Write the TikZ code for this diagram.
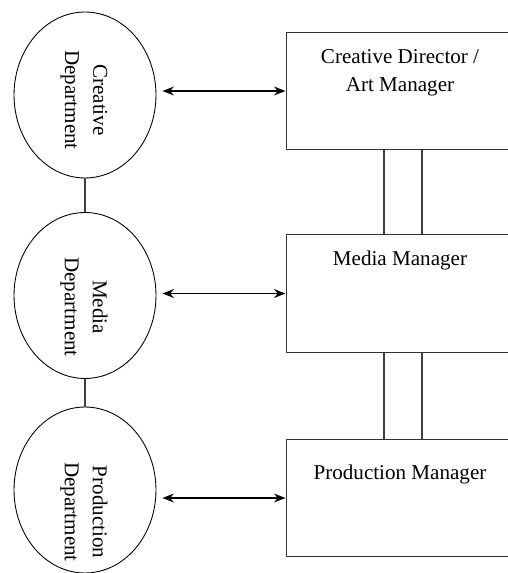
\documentclass[tikz,border=0pt]{standalone}
\usepackage{fontspec}
\setmainfont{Liberation Serif}
\usetikzlibrary{arrows.meta,positioning,calc,shapes.geometric}

\begin{document}
\begin{tikzpicture}[x=0.02cm,y=-0.02cm,
 dept/.style={draw=black,ellipse,line width=0.5pt,inner sep=0pt,
 minimum width=2.84cm,minimum height=3.32cm},
 deptlabel/.style={rotate=-90,align=center,inner sep=0pt,
 font=\fontsize{12}{16}\selectfont},
 mgr/.style={draw=black!80,line width=0.6pt,inner sep=0pt,
 minimum width=4.56cm,minimum height=2.35cm},
 mgrlabel/.style={anchor=north,align=center,inner sep=0pt,
 font=\fontsize{12}{16}\selectfont},
 twoway/.style={{Stealth[length=6.5pt,width=5pt]}-{Stealth[length=6.5pt,width=5pt]},
 line width=1.1pt,draw=black,shorten <=0.12cm},
 tie/.style={draw=black!75,line width=0.6pt}]
\useasboundingbox (0,0) rectangle (507,573);
% departments
\node[dept] (creative) at (85,95) {};
\node[dept] (media) at (85,295.5) {};
\node[dept] (production) at (85,490) {};
\node[deptlabel] at (84,100) {Creative\\Department};
\node[deptlabel] at (84,307) {Media\\Department};
\node[deptlabel] at (84,512) {Production\\Department};
% managers
\node[mgr] (art) at (400,91) {};
\node[mgr] (mediamgr) at (400,293.5) {};
\node[mgr] (prodmgr) at (400,498) {};
\node[mgrlabel] at (400,49) {Creative Director /\\Art Manager};
\node[mgrlabel] at (400,251) {Media Manager};
\node[mgrlabel] at (400,465) {Production Manager};
% links
\draw[tie] (creative.south) -- (media.north);
\draw[tie] (media.south) -- (production.north);
\draw[twoway] (creative.east |- art.west) -- (art.west);
\draw[twoway] (media.east |- mediamgr.west) -- (mediamgr.west);
\draw[twoway] (production.east |- prodmgr.west) -- (prodmgr.west);
\draw[tie] ([xshift=-0.32cm]art.south) -- ([xshift=-0.32cm]mediamgr.north);
\draw[tie] ([xshift=0.44cm]art.south) -- ([xshift=0.44cm]mediamgr.north);
\draw[tie] ([xshift=-0.32cm]mediamgr.south) -- ([xshift=-0.32cm]prodmgr.north);
\draw[tie] ([xshift=0.44cm]mediamgr.south) -- ([xshift=0.44cm]prodmgr.north);
\end{tikzpicture}
\end{document}
